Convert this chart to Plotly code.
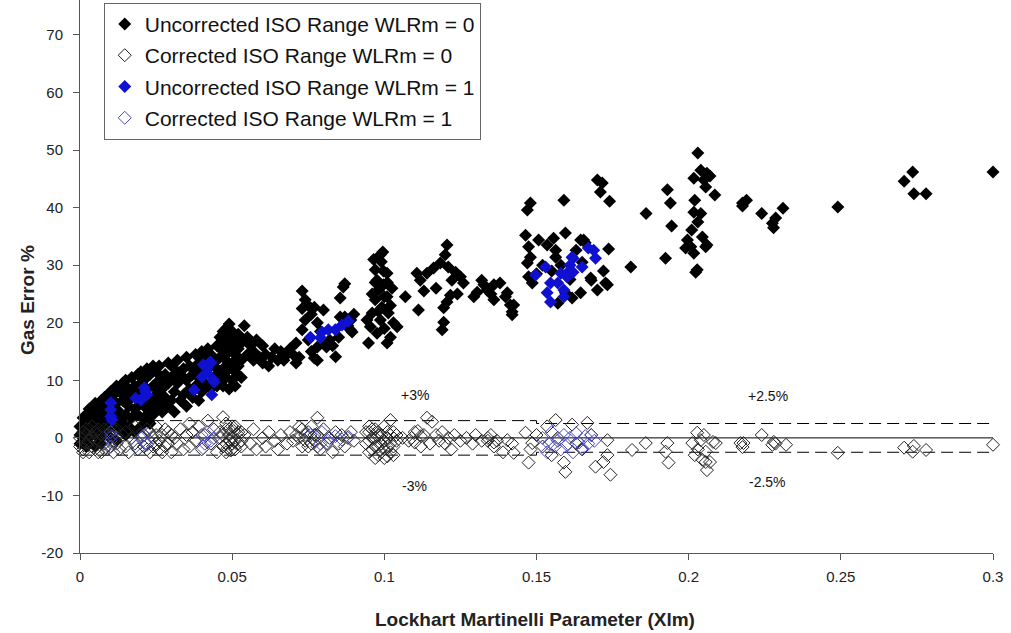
import plotly.graph_objects as go

# ---------------- data ----------------
unc0_x = [
    0.000, 0.000, 0.000, 0.001, 0.001, 0.001, 0.002, 0.002, 0.002, 0.002, 0.003, 0.003, 0.003, 0.003,
    0.004, 0.004, 0.004, 0.005, 0.005, 0.005, 0.005, 0.006, 0.006, 0.006, 0.007, 0.007, 0.007, 0.007,
    0.008, 0.008, 0.008, 0.008, 0.009, 0.009, 0.009, 0.010, 0.010, 0.010, 0.010, 0.011, 0.011, 0.011,
    0.012, 0.012, 0.012, 0.012,
    0.013, 0.013, 0.013, 0.014, 0.014, 0.014, 0.015, 0.015, 0.015, 0.015, 0.016, 0.016, 0.016, 0.017,
    0.017, 0.017, 0.018, 0.018, 0.018, 0.019, 0.019, 0.019, 0.020, 0.020, 0.020, 0.020, 0.021, 0.021,
    0.021, 0.022, 0.022, 0.022, 0.023, 0.023, 0.023, 0.024, 0.024, 0.024, 0.025, 0.025, 0.025, 0.026,
    0.026, 0.026, 0.027, 0.027, 0.028, 0.028, 0.029, 0.029, 0.029, 0.030, 0.030, 0.031, 0.031, 0.031,
    0.032, 0.032, 0.033, 0.033, 0.034, 0.034, 0.035, 0.035, 0.035, 0.036, 0.036, 0.037, 0.037, 0.038,
    0.038, 0.038, 0.039, 0.039, 0.039, 0.040, 0.040, 0.040,
    0.041, 0.041, 0.042, 0.042, 0.043, 0.043, 0.044, 0.044, 0.045, 0.045, 0.045, 0.046, 0.046, 0.046,
    0.047, 0.047, 0.047, 0.047,
    0.048, 0.048, 0.048, 0.048, 0.049, 0.049, 0.049, 0.049, 0.049, 0.050, 0.050, 0.050, 0.050, 0.051,
    0.051, 0.051, 0.051, 0.052, 0.052, 0.052, 0.053, 0.053, 0.053,
    0.054, 0.055, 0.055, 0.056, 0.057, 0.057, 0.058, 0.059, 0.060, 0.060, 0.061, 0.062, 0.063, 0.064,
    0.065, 0.066, 0.067, 0.068, 0.069, 0.070, 0.071, 0.071, 0.072,
    0.073, 0.073, 0.073, 0.074, 0.074, 0.075, 0.075, 0.076, 0.076, 0.077, 0.077, 0.078, 0.078, 0.078,
    0.079, 0.080, 0.080, 0.081, 0.082, 0.083, 0.084, 0.085, 0.0855, 0.0865, 0.087, 0.0855, 0.087, 0.088,
    0.089, 0.0888, 0.0894, 0.090,
    0.0943, 0.0948, 0.0954, 0.096, 0.096, 0.097, 0.097, 0.097, 0.0976, 0.0976, 0.098, 0.098, 0.0987,
    0.0987, 0.099, 0.0992, 0.0997, 0.0997, 0.100, 0.100, 0.1009, 0.1009, 0.1009, 0.101, 0.1013, 0.102,
    0.102, 0.1025, 0.103, 0.1042, 0.0965, 0.0995,
    0.1069, 0.1107, 0.1118, 0.1112, 0.113, 0.114, 0.1162, 0.1184, 0.1206, 0.120, 0.121, 0.1234, 0.1222,
    0.125, 0.126, 0.1217, 0.1206, 0.1195, 0.1195, 0.119, 0.117, 0.124,
    0.1294, 0.1305, 0.132, 0.1327, 0.1338, 0.136, 0.138, 0.136, 0.1404, 0.1414, 0.142, 0.142, 0.1398,
    0.1425, 0.135,
    0.147, 0.148, 0.1464, 0.1474, 0.148, 0.147, 0.1474, 0.1486, 0.1507, 0.1535, 0.1556, 0.1595, 0.159,
    0.1563, 0.1563, 0.1645, 0.166, 0.1737, 0.163, 0.1678, 0.170, 0.1733, 0.1645, 0.1617, 0.157, 0.1595,
    0.155, 0.152, 0.150, 0.158, 0.161, 0.165, 0.168, 0.1655, 0.170, 0.1716, 0.171, 0.174, 0.1727, 0.172,
    0.181, 0.186, 0.193, 0.194, 0.1944, 0.1924, 0.203, 0.2017, 0.206, 0.205, 0.2056, 0.2086, 0.202,
    0.2017, 0.204, 0.201, 0.1996, 0.2045, 0.206, 0.2017, 0.2007, 0.2023, 0.2028, 0.2056, 0.207, 0.204,
    0.203, 0.199,
    0.2177, 0.219, 0.2177, 0.224, 0.231, 0.2286, 0.2275, 0.2279, 0.249, 0.2736, 0.2708, 0.274, 0.278,
    0.300,
]
unc0_y = [
    0.5, 2.0, -1.0, 3.5, 1.0, -0.5, 4.0, 2.5, 0.0, -1.5, 5.0, 3.0, 1.5, -1.0,
    4.5, 2.0, 0.5, 6.0, 3.5, 1.0, -1.5, 5.0, 2.5, 0.0, 6.5, 4.0, 1.5, -1.0,
    7.0, 5.0, 3.0, 0.5, 6.0, 4.0, 1.5, 8.0, 6.5, 3.0, 0.0, 7.5, 5.0, 2.0,
    9.0, 6.0, 3.5, -0.5,
    8.0, 4.5, 1.5, 9.5, 6.5, 2.5, 10.0, 7.5, 4.0, 0.5, 8.5, 5.5, 2.0, 10.5,
    7.0, 3.5, 9.0, 5.0, 1.0, 11.0, 8.0, 4.0, 11.5, 9.5, 6.0, 2.0, 10.0, 7.0,
    3.5, 12.0, 8.5, 5.0, 11.0, 6.5, 2.5, 12.5, 9.0, 4.0, 11.5, 7.5, 5.5, 12.5,
    10.0, 6.0, 8.5, 4.5, 11.0, 7.0, 13.0, 9.5, 5.5, 10.5, 6.5, 12.0, 8.0, 4.5,
    13.5, 9.5, 11.0, 6.5, 12.0, 7.5, 14.0, 10.0, 5.5, 12.5, 8.5, 11.0, 7.0, 14.5,
    12.0, 9.0, 13.0, 10.5, 6.5, 15.0, 11.5, 8.0,
    14.0, 9.5, 15.5, 12.0, 14.5, 8.5, 13.0, 10.5, 16.0, 12.0, 9.0, 14.0, 10.5, 17.5,
    18.5, 15.0, 12.0, 9.0,
    19.0, 16.5, 13.5, 10.5, 19.8, 17.5, 15.0, 12.0, 8.5, 18.5, 16.0, 13.0, 10.0, 17.0,
    14.5, 11.5, 9.0, 18.0, 15.5, 12.5, 16.5, 13.5, 10.5,
    19.5, 17.5, 14.5, 16.0, 13.5, 15.0, 17.0, 14.0, 13.0, 16.0, 14.5, 12.5, 14.0, 15.5,
    13.5, 15.0, 13.5, 14.5, 15.5, 14.5, 13.0, 16.5, 14.0,
    25.5, 22.5, 18.8, 24.0, 20.5, 23.0, 17.0, 21.5, 15.0, 22.7, 13.9, 20.0, 15.8, 13.5,
    18.5, 22.2, 16.5, 15.8, 17.0, 16.0, 14.1, 17.5, 24.3, 26.2, 26.8, 21.0, 21.0, 19.5,
    20.5, 18.8, 18.4, 21.5,
    20.5, 16.5, 19.3, 21.7, 25.0, 29.2, 24.0, 27.0, 27.4, 18.2, 25.7, 22.0, 31.8,
    20.5, 30.6, 22.7, 26.6, 29.0, 24.5, 19.0, 28.6, 24.5, 16.5, 27.0, 21.7, 17.5,
    23.0, 26.0, 20.0, 19.3, 31.0, 32.3,
    24.5, 28.6, 27.4, 22.2, 25.5, 28.6, 29.5, 30.4, 33.5, 31.8, 29.7, 28.8, 27.4,
    28.0, 26.9, 24.8, 23.6, 22.6, 20.1, 18.8, 26.0, 25.0,
    24.5, 25.3, 27.4, 26.6, 25.7, 26.6, 26.9, 24.0, 25.2, 23.1, 21.9, 21.4, 24.5,
    23.1, 25.0,
    39.6, 40.8, 35.2, 33.2, 31.4, 30.4, 28.0, 26.9, 34.4, 33.5, 34.7, 35.6, 41.3,
    32.6, 31.4, 34.4, 33.9, 32.8, 32.6, 27.8, 25.7, 26.6, 25.2, 24.3, 23.4, 25.2,
    29.0, 30.0, 28.5, 30.0, 27.5, 30.5, 27.4, 34.4, 44.8, 44.3, 42.7, 41.1, 26.9, 29.0,
    29.7, 39.0, 43.1, 40.8, 36.8, 31.2, 49.5, 45.1, 46.0, 44.8, 43.6, 42.2, 41.3,
    39.2, 39.0, 36.1, 34.4, 34.9, 33.5, 32.1, 33.2, 28.8, 29.2, 33.2, 45.5, 46.5,
    37.5, 33.0,
    40.8, 41.3, 40.3, 39.0, 39.9, 38.2, 37.3, 36.5, 40.1, 46.2, 44.6, 42.4, 42.4,
    46.2,
]

cor0_x = [
    0.000, 0.000, 0.001, 0.001, 0.002, 0.002, 0.003, 0.003, 0.004, 0.004, 0.005, 0.005, 0.006, 0.007,
    0.007, 0.008, 0.008, 0.009, 0.010, 0.010, 0.011, 0.011, 0.012, 0.012,
    0.001, 0.002, 0.003, 0.004, 0.005, 0.006, 0.006, 0.008, 0.009, 0.010, 0.011, 0.012,
    0.013, 0.014, 0.015, 0.015, 0.016, 0.017, 0.018, 0.018, 0.019, 0.020, 0.021, 0.022, 0.023, 0.024,
    0.025, 0.025, 0.026, 0.027, 0.028, 0.029, 0.030, 0.031, 0.032, 0.033, 0.034, 0.035, 0.036, 0.036,
    0.037, 0.038, 0.039, 0.040, 0.041, 0.042, 0.043, 0.044, 0.045, 0.046,
    0.021, 0.022, 0.023, 0.024, 0.025, 0.026, 0.027, 0.028, 0.029, 0.030,
    0.047, 0.048, 0.048, 0.049, 0.050, 0.050, 0.051, 0.052, 0.053, 0.054, 0.056, 0.057, 0.058, 0.060,
    0.061, 0.062, 0.064, 0.065, 0.066, 0.068, 0.069, 0.070, 0.071, 0.072,
    0.046, 0.047, 0.047, 0.048, 0.048, 0.049, 0.049, 0.050, 0.050, 0.051, 0.051, 0.052, 0.052, 0.053,
    0.053, 0.0485, 0.0505, 0.0495,
    0.074, 0.075, 0.076, 0.077, 0.078, 0.078, 0.079, 0.080, 0.081, 0.082, 0.083, 0.084, 0.085, 0.086,
    0.087, 0.088, 0.089, 0.090,
    0.072, 0.073, 0.073, 0.074, 0.075, 0.076, 0.077, 0.078,
    0.094, 0.095, 0.095, 0.096, 0.097, 0.097, 0.098, 0.098, 0.099, 0.100, 0.100, 0.101, 0.101, 0.102,
    0.102, 0.103, 0.104,
    0.094, 0.095, 0.096, 0.096, 0.097, 0.097, 0.098, 0.098, 0.099, 0.099, 0.100, 0.100, 0.101, 0.101,
    0.102, 0.102, 0.103, 0.103, 0.104, 0.095,
    0.106, 0.108, 0.110, 0.112, 0.113, 0.114, 0.1157, 0.115, 0.117, 0.118, 0.119, 0.120, 0.121, 0.122,
    0.123, 0.125, 0.127, 0.129, 0.130, 0.132, 0.134, 0.136, 0.137, 0.139, 0.1404, 0.1425, 0.142, 0.1464,
    0.1474, 0.1486, 0.148,
    0.109, 0.110, 0.111, 0.112, 0.134, 0.135, 0.136,
    0.150, 0.152, 0.1535, 0.1563, 0.155, 0.157, 0.159, 0.1595, 0.1617, 0.163, 0.1667, 0.165, 0.168,
    0.1694, 0.172, 0.1733, 0.1733, 0.1743, 0.1814, 0.1859, 0.193, 0.1924, 0.1934, 0.2028, 0.204, 0.2012,
    0.2056, 0.2045, 0.207, 0.206, 0.2089, 0.205, 0.208, 0.2056, 0.203, 0.202,
    0.217, 0.218, 0.2177, 0.224, 0.228, 0.2275, 0.2285, 0.232, 0.249, 0.2708, 0.274, 0.2736, 0.278,
    0.300,
]
cor0_y = [
    0.0, -1.5, 1.0, -2.0, 0.5, -1.0, 1.5, -2.5, 0.0, -1.5, 1.0, -2.0, -0.5, 0.5,
    -2.5, 1.5, -1.0, -2.0, 0.5, -1.5, 1.5, -2.5, 0.0, -1.0,
    -2.5, 1.5, -0.5, 2.0, -0.5, 1.5, -2.5, -2.0, 0.5, 2.0, -0.5, 1.5,
    -2.0, 0.5, -1.5, 1.0, -2.5, 0.0, -1.0, 2.0, -2.0, 0.5, -1.5, 1.5, -2.5, 0.0,
    -1.0, 2.0, -2.0, 0.5, -1.5, 1.0, -2.5, 0.0, -1.0, 1.5, -2.0, 0.5, 2.5, -1.5,
    1.0, -0.5, 2.0, -2.0, 0.5, 3.0, -1.0, 1.5, -2.5, 0.0,
    0.5, -2.0, 1.0, -1.5, 0.5, -0.5, -2.5, 1.5, -1.0, 0.5,
    3.6, 1.5, -1.0, 0.5, -2.0, 2.0, -0.5, 1.0, -1.5, 0.5, -1.0, 1.5, -2.0, 0.0,
    -1.5, 1.0, -0.5, -2.0, 0.5, -1.0, 1.0, -0.5, 0.5, 1.9,
    1.0, -1.5, 0.5, -2.5, 2.5, -0.5, 1.5, 0.0, -1.0, 2.0, -2.0, 0.5, -1.0, 1.0,
    -0.5, -1.8, 1.2, -2.2,
    0.5, -1.5, 2.0, -0.5, 3.5, 0.5, -2.0, 1.5, -1.0, 0.0, -2.5, 1.0, -1.0, 0.5,
    -1.5, 0.0, 1.0, -0.5,
    0.0, -1.5, 1.5, -0.5, 1.0, -1.0, 0.5, -1.5,
    -1.0, 1.0, -2.5, 0.0, -1.5, 1.5, -3.0, 0.5, -1.0, 2.0, -2.0, 0.0, -3.2, 3.1,
    -1.0, 1.0, -0.5,
    1.0, -0.5, -2.0, 1.5, -3.5, 0.0, -1.5, 1.0, -2.5, 0.5, -0.5, -3.5, 1.0, -1.5,
    -2.5, 0.5, -1.5, -3.0, 0.5, 2.0,
    0.0, -0.5, 1.0, -1.5, 0.5, 3.5, 2.8, -1.0, 0.5, -0.5, 1.0, -1.0, 0.0, -2.0,
    0.5, -0.5, 0.0, -1.0, 0.5, -0.5, 0.0, -1.5, -0.5, -2.5, -0.4, -2.6, -1.0, 0.9,
    -4.3, -0.9, -2.0,
    0.0, -0.8, 1.2, 0.3, -0.5, 0.5, -0.8,
    0.5, -1.5, 2.0, 3.1, -3.0, 0.0, -4.3, -5.9, 2.3, -1.0, 2.6, -2.0, 0.5,
    -5.0, -4.2, -3.0, -0.4, -6.4, -2.1, -0.9, -0.9, -2.4, -4.3, 0.9, -0.4, -0.9,
    -2.4, -3.8, -4.2, -5.6, -0.9, 0.5, -0.7, -4.2, -2.0, -3.0,
    -0.9, -0.9, -1.6, 0.5, -0.7, -1.2, -1.0, -1.2, -2.6, -1.7, -1.4, -2.4, -2.1,
    -1.2,
]

unc1_x = [
    0.0101, 0.0101, 0.0101, 0.0105, 0.0211, 0.0216, 0.0183, 0.020, 0.022,
    0.043, 0.0428, 0.0417, 0.0405, 0.0401, 0.0441, 0.0375, 0.0433, 0.0418, 0.0438,
    0.0757, 0.0795, 0.0816, 0.0839, 0.0861, 0.0882, 0.079,
    0.1688, 0.162, 0.165, 0.160, 0.159, 0.167, 0.1694, 0.1617, 0.161, 0.158, 0.153, 0.1497,
    0.1546, 0.157, 0.1535, 0.1546, 0.159, 0.162, 0.160,
]
unc1_y = [
    6.1, 4.9, 3.7, 3.1, 8.7, 8.0, 6.9, 6.6, 7.5,
    13.0, 13.2, 12.2, 12.7, 10.6, 9.7, 8.3, 7.5, 11.3, 10.1,
    17.5, 18.4, 18.8, 18.8, 19.6, 20.3, 17.4,
    32.6, 31.2, 29.7, 28.6, 25.7, 33.0, 31.2, 31.4, 30.0, 28.6, 29.7, 28.3,
    26.9, 26.9, 25.2, 23.6, 24.5, 28.8, 28.0,
]

cor1_x = [
    0.0101, 0.0101, 0.0101, 0.0105, 0.0211, 0.0216, 0.0183, 0.020, 0.022,
    0.040, 0.041, 0.042, 0.043, 0.044, 0.0405,
    0.0757, 0.0795, 0.0816, 0.0839, 0.0861, 0.0882, 0.079,
    0.152, 0.154, 0.155, 0.157, 0.158, 0.159, 0.160, 0.161, 0.162, 0.163, 0.164, 0.165, 0.166,
    0.167, 0.168, 0.169, 0.1535, 0.156,
]
cor1_y = [
    1.0, -0.5, -1.5, 0.3, 0.5, -0.8, -1.5, 0.0, -1.2,
    0.5, -1.0, 1.0, -0.5, 0.0, -1.8,
    0.5, 1.0, -0.5, 0.3, -0.3, 0.2, -1.0,
    0.0, -1.0, 1.0, -0.5, -2.0, 0.5, -1.2, 0.0, -2.5, 0.8, -0.8, -1.8, 0.3,
    -1.0, 0.5, -0.5, -2.5, -1.5,
]

# reference limit lines
upper_x = [0.0, 0.15, 0.15, 0.3]
upper_y = [3.0, 3.0, 2.5, 2.5]
lower_x = [0.0, 0.15, 0.15, 0.3]
lower_y = [-3.0, -3.0, -2.5, -2.5]
zero_x = [0.0, 0.3]
zero_y = [0.0, 0.0]

x_ticks = [0, 0.05, 0.1, 0.15, 0.2, 0.25, 0.3]
x_tick_text = ["0", "0.05", "0.1", "0.15", "0.2", "0.25", "0.3"]
y_ticks = [-20, -10, 0, 10, 20, 30, 40, 50, 60, 70]
y_tick_text = ["-20", "-10", "0", "10", "20", "30", "40", "50", "60", "70"]

# ---------------- figure ----------------
FONT = "Liberation Sans, Arial, sans-serif"
fig = go.Figure()

for lx, ly, dash in [(zero_x, zero_y, "solid"), (upper_x, upper_y, "12px,6px"), (lower_x, lower_y, "12px,6px")]:
    fig.add_trace(go.Scatter(x=lx, y=ly, mode="lines", showlegend=False, hoverinfo="skip",
                             line=dict(color="black", width=1, dash=dash)))

fig.add_trace(go.Scatter(x=unc0_x, y=unc0_y, mode="markers", name="Uncorrected ISO Range WLRm = 0",
                         legendgroup="a", cliponaxis=False,
                         marker=dict(symbol="diamond", size=10, color="black", line=dict(width=0))))
fig.add_trace(go.Scatter(x=cor0_x, y=cor0_y, mode="markers", name="Corrected ISO Range WLRm = 0",
                         legendgroup="b", cliponaxis=False,
                         marker=dict(symbol="diamond-open", size=10, color="#222222", line=dict(width=1))))
fig.add_trace(go.Scatter(x=unc1_x, y=unc1_y, mode="markers", name="Uncorrected ISO Range WLRm = 1",
                         legendgroup="c", cliponaxis=False,
                         marker=dict(symbol="diamond", size=10, color="#1010d0", line=dict(width=0))))
fig.add_trace(go.Scatter(x=cor1_x, y=cor1_y, mode="markers", name="Corrected ISO Range WLRm = 1",
                         legendgroup="d", cliponaxis=False,
                         marker=dict(symbol="diamond-open", size=10, color="#4848c0", line=dict(width=1))))

annots = [("+3%", 0.110, 7.4), ("-3%", 0.110, -8.3), ("+2.5%", 0.226, 7.2), ("-2.5%", 0.226, -7.6)]
for txt, ax_, ay_ in annots:
    fig.add_annotation(x=ax_, y=ay_, text=txt, showarrow=False, font=dict(family=FONT, size=14, color="#111"))

fig.add_annotation(xref="paper", yref="paper", x=0.498, y=-0.121, text="<b>Lockhart Martinelli Parameter (Xlm)</b>",
                   showarrow=False, font=dict(family=FONT, size=19, color="#222"), yanchor="middle")
fig.add_annotation(xref="paper", yref="paper", x=-0.058, y=0.4575, text="<b>Gas Error %</b>", textangle=-90,
                   showarrow=False, font=dict(family=FONT, size=19, color="#222"), xanchor="center")

fig.update_layout(
    width=1011, height=633,
    margin=dict(l=80, r=18, t=0, b=80),
    paper_bgcolor="white", plot_bgcolor="white",
    font=dict(family=FONT, color="#222"),
    showlegend=True,
    legend=dict(x=0.026, y=0.995, xanchor="left", yanchor="top", bgcolor="white",
                bordercolor="#666", borderwidth=1, font=dict(family=FONT, size=21, color="#111"),
                tracegroupgap=1, traceorder="grouped"),
    xaxis=dict(range=[0, 0.3], tickvals=x_ticks, ticktext=x_tick_text, showgrid=False, zeroline=False,
               showline=True, linecolor="#555", linewidth=1, ticks="outside", ticklen=6, tickcolor="#555",
               ticklabelstandoff=4, tickfont=dict(family=FONT, size=15, color="#222")),
    yaxis=dict(range=[-20, 76.08], tickvals=y_ticks, ticktext=y_tick_text, showgrid=False, zeroline=False,
               showline=True, linecolor="#555", linewidth=1, ticks="outside", ticklen=6, tickcolor="#555",
               ticklabelstandoff=7, tickfont=dict(family=FONT, size=15, color="#222")),
)

fig.write_html("out.html")
